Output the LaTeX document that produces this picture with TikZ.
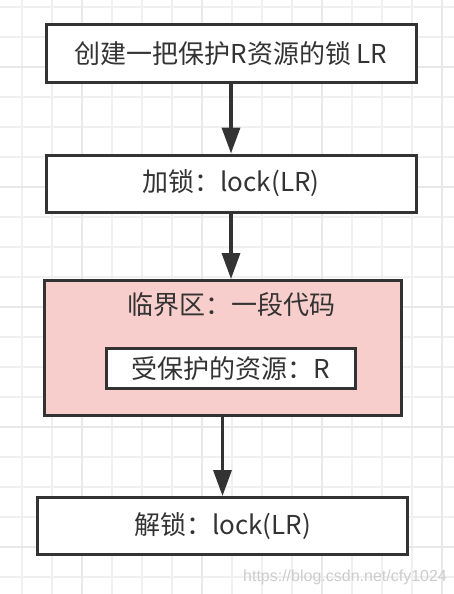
\documentclass[tikz,border=0pt]{standalone}
\usepackage{fontspec}
\setmainfont{Noto Sans CJK SC}
\newfontfamily\markfont{Liberation Sans}
\usetikzlibrary{arrows.meta}

\definecolor{edge}{HTML}{333333}
\definecolor{critical}{HTML}{F8CECC}
\colorlet{gridminor}{black!6}
\colorlet{gridmajor}{black!9}

\begin{document}
\begin{tikzpicture}[x=1pt, y=-1pt,
	line cap=rect, line join=miter,
	minorgrid/.style={gridminor, line width=1.5pt},
	majorgrid/.style={gridmajor, line width=2pt},
	stepbox/.style={draw=edge, fill=white, line width=3pt, inner sep=0pt,
		minimum width=370pt, minimum height=57pt,
		font=\fontsize{26}{30}\selectfont, text=edge},
	critbox/.style={stepbox, fill=critical, minimum width=357pt, minimum height=135pt},
	resbox/.style={stepbox, minimum width=249pt, minimum height=40pt},
	flow/.style={edge, line width=3.5pt, -{Triangle[length=26pt, width=18pt]}}]
	
	\useasboundingbox (0,0) rectangle (454,594);
	\fill [white] (0,0) rectangle (454,594);
	
	% grid
	\foreach \x in {22,52,...,442}
	\draw [minorgrid] (\x,0) -- (\x,594);
	\foreach \y in {7,37,...,577}
	\draw [minorgrid] (0,\y) -- (454,\y);
	\foreach \x in {82,202,322,442}
	\draw [majorgrid] (\x,0) -- (\x,594);
	\foreach \y in {67,187,...,547}
	\draw [majorgrid] (0,\y) -- (454,\y);
	
	% steps
	\node [stepbox] (create) at (231,53.5) {创建一把保护R资源的锁 LR};
	\node [stepbox] (lock) at (231,183.5) {加锁：lock(LR)};
	\node [critbox] (crit) at (223,348) {};
	\node [font=\fontsize{26}{30}\selectfont, text=edge] (crittitle) at (231,305) {临界区：一段代码};
	\node [resbox] (res) at (231,368.5) {受保护的资源：R};
	\node [stepbox] (unlock) at (222.5,526) {解锁：lock(LR)};
	
	\draw [flow] (create) -- (lock);
	\draw [flow] (lock.south) -- (lock.south |- crit.north);
	\draw [flow] (crit.south -| unlock.north) -- (unlock.north);
	
	\node [font=\markfont\fontsize{16}{18}\selectfont, text=black!20] (watermark) at (345,577) {https://blog.csdn.net/cfy1024};
	
\end{tikzpicture}
\end{document}
